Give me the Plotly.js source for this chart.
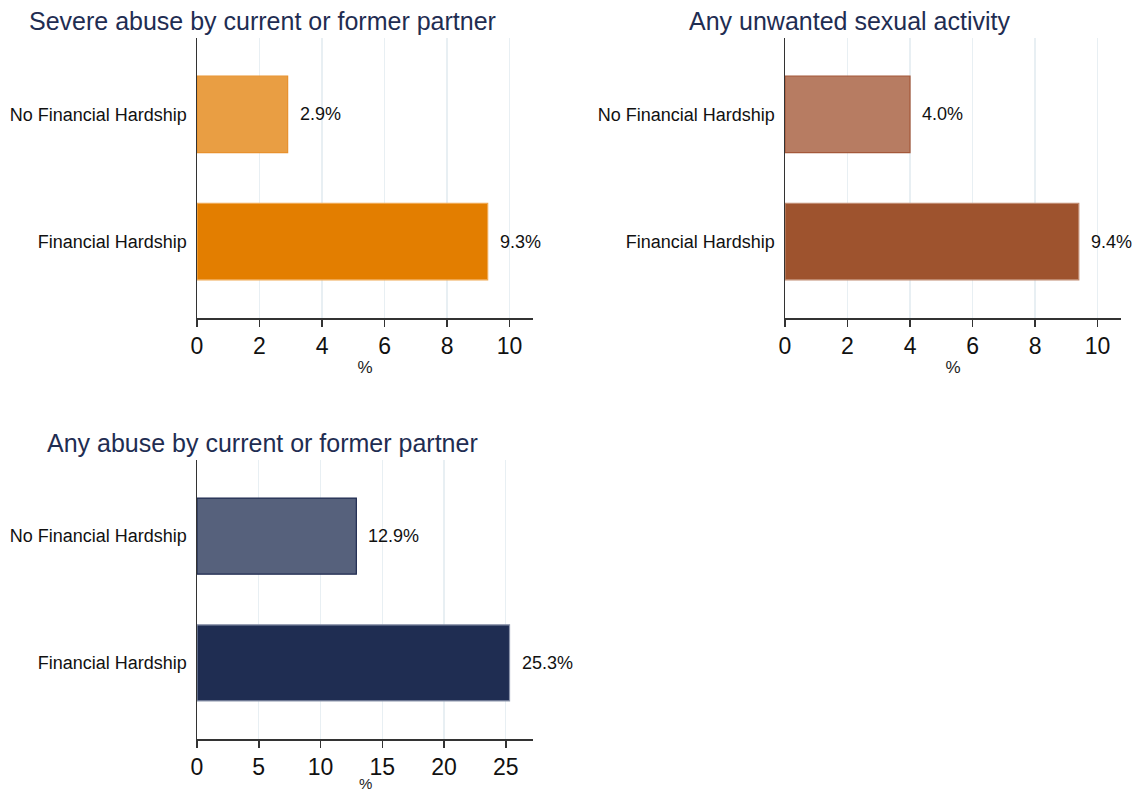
<!DOCTYPE html>
<html>
<head>
<meta charset="utf-8">
<script src="https://cdn.plot.ly/plotly-3.0.1.min.js"></script>
<style>html,body{margin:0;padding:0;background:#fff;}#chart{width:1140px;height:791px;}</style>
</head>
<body>
<div id="chart"></div>
<script>
const categories = ['Financial Hardship', 'No Financial Hardship'];
const severeAbuse = [9.3, 2.9];
const unwantedSexual = [9.4, 4.0];
const anyAbuse = [25.3, 12.9];
const panelTitles = ['Severe abuse by current or former partner', 'Any unwanted sexual activity', 'Any abuse by current or former partner'];
const xTitle = '%';

const FONT = 'Liberation Sans, Arial, sans-serif';
const W = 1140, H = 791;
const px = v => v / W;
const py = v => (H - v) / H;

function barTrace(vals, fills, lines, xa, ya) {
  return {
    type: 'bar', orientation: 'h', x: vals, y: categories,
    xaxis: xa, yaxis: ya, width: 0.6,
    marker: {color: fills, line: {color: lines, width: 1.2}},
    hoverinfo: 'none', showlegend: false
  };
}

const data = [
  barTrace(severeAbuse, ['#E37E00', '#E99E43'], ['#F0A850', '#E8912D'], 'x', 'y'),
  barTrace(unwantedSexual, ['#9E532E', '#B77C62'], ['#C08A70', '#A4583A'], 'x2', 'y2'),
  barTrace(anyAbuse, ['#1F2D52', '#56617C'], ['#8A93AA', '#1F2B50'], 'x3', 'y3')
];

function xAxis(domain, range, dtick, anchor, withTitle) {
  const ax = {
    domain: domain, range: range, anchor: anchor, dtick: dtick, tick0: 0,
    showline: true, linecolor: '#333', linewidth: 1.5,
    ticks: 'outside', ticklen: 7, tickcolor: '#333', tickwidth: 1.5,
    showgrid: true, gridcolor: '#E8EFF3', gridwidth: 1.2,
    zeroline: false, tickfont: {family: FONT, size: 23, color: '#111'},
    fixedrange: true
  };
  if (withTitle) ax.title = {text: xTitle, font: {family: FONT, size: 17, color: '#222'}, standoff: 3};
  return ax;
}
function yAxis(domain, anchor) {
  return {
    domain: domain, anchor: anchor, type: 'category', categoryarray: categories,
    categoryorder: 'array', range: [-0.6, 1.6],
    showline: true, linecolor: '#333', linewidth: 1.5,
    ticks: '', showgrid: false, zeroline: false, ticklabelstandoff: 5,
    tickfont: {family: FONT, size: 18, color: '#111'}, fixedrange: true
  };
}

const topDom = [py(318), py(38)];
const botDom = [py(739), py(460)];
const leftDom = [px(197), px(533)];
const rightDom = [px(785), px(1121)];

const annotations = [];
function valueLabels(vals, xr, yr) {
  vals.forEach((v, i) => {
    annotations.push({
      x: v, y: categories[i], xref: xr, yref: yr, text: v.toFixed(1) + '%',
      showarrow: false, xanchor: 'left', yanchor: 'middle', xshift: 10,
      font: {family: FONT, size: 18, color: '#111'}
    });
  });
}
valueLabels(severeAbuse, 'x', 'y');
valueLabels(unwantedSexual, 'x2', 'y2');
valueLabels(anyAbuse, 'x3', 'y3');

const titlePos = [[262, 21], [850, 21], [262, 443]];
panelTitles.forEach((t, i) => {
  annotations.push({
    text: t, x: px(titlePos[i][0]), y: py(titlePos[i][1]), xref: 'paper', yref: 'paper',
    xanchor: 'center', yanchor: 'middle', showarrow: false,
    font: {family: FONT, size: 25, color: '#1F2D52'}
  });
});

// bottom panel axis title, kept just inside the figure edge
annotations.push({
  text: xTitle, x: px(365), y: py(783), xref: 'paper', yref: 'paper',
  xanchor: 'center', yanchor: 'middle', showarrow: false,
  font: {family: FONT, size: 15, color: '#222'}
});

const layout = {
  width: W, height: H, margin: {l: 0, r: 0, t: 0, b: 0},
  paper_bgcolor: '#fff', plot_bgcolor: '#fff', bargap: 0.4,
  font: {family: FONT},
  xaxis: xAxis(leftDom, [0, 10.75], 2, 'y', true),
  yaxis: yAxis(topDom, 'x'),
  xaxis2: xAxis(rightDom, [0, 10.75], 2, 'y2', true),
  yaxis2: yAxis(topDom, 'x2'),
  xaxis3: xAxis(leftDom, [0, 27.2], 5, 'y3', false),
  yaxis3: yAxis(botDom, 'x3'),
  annotations: annotations
};

Plotly.newPlot('chart', data, layout, {displayModeBar: false, staticPlot: true});
</script>
</body>
</html>
